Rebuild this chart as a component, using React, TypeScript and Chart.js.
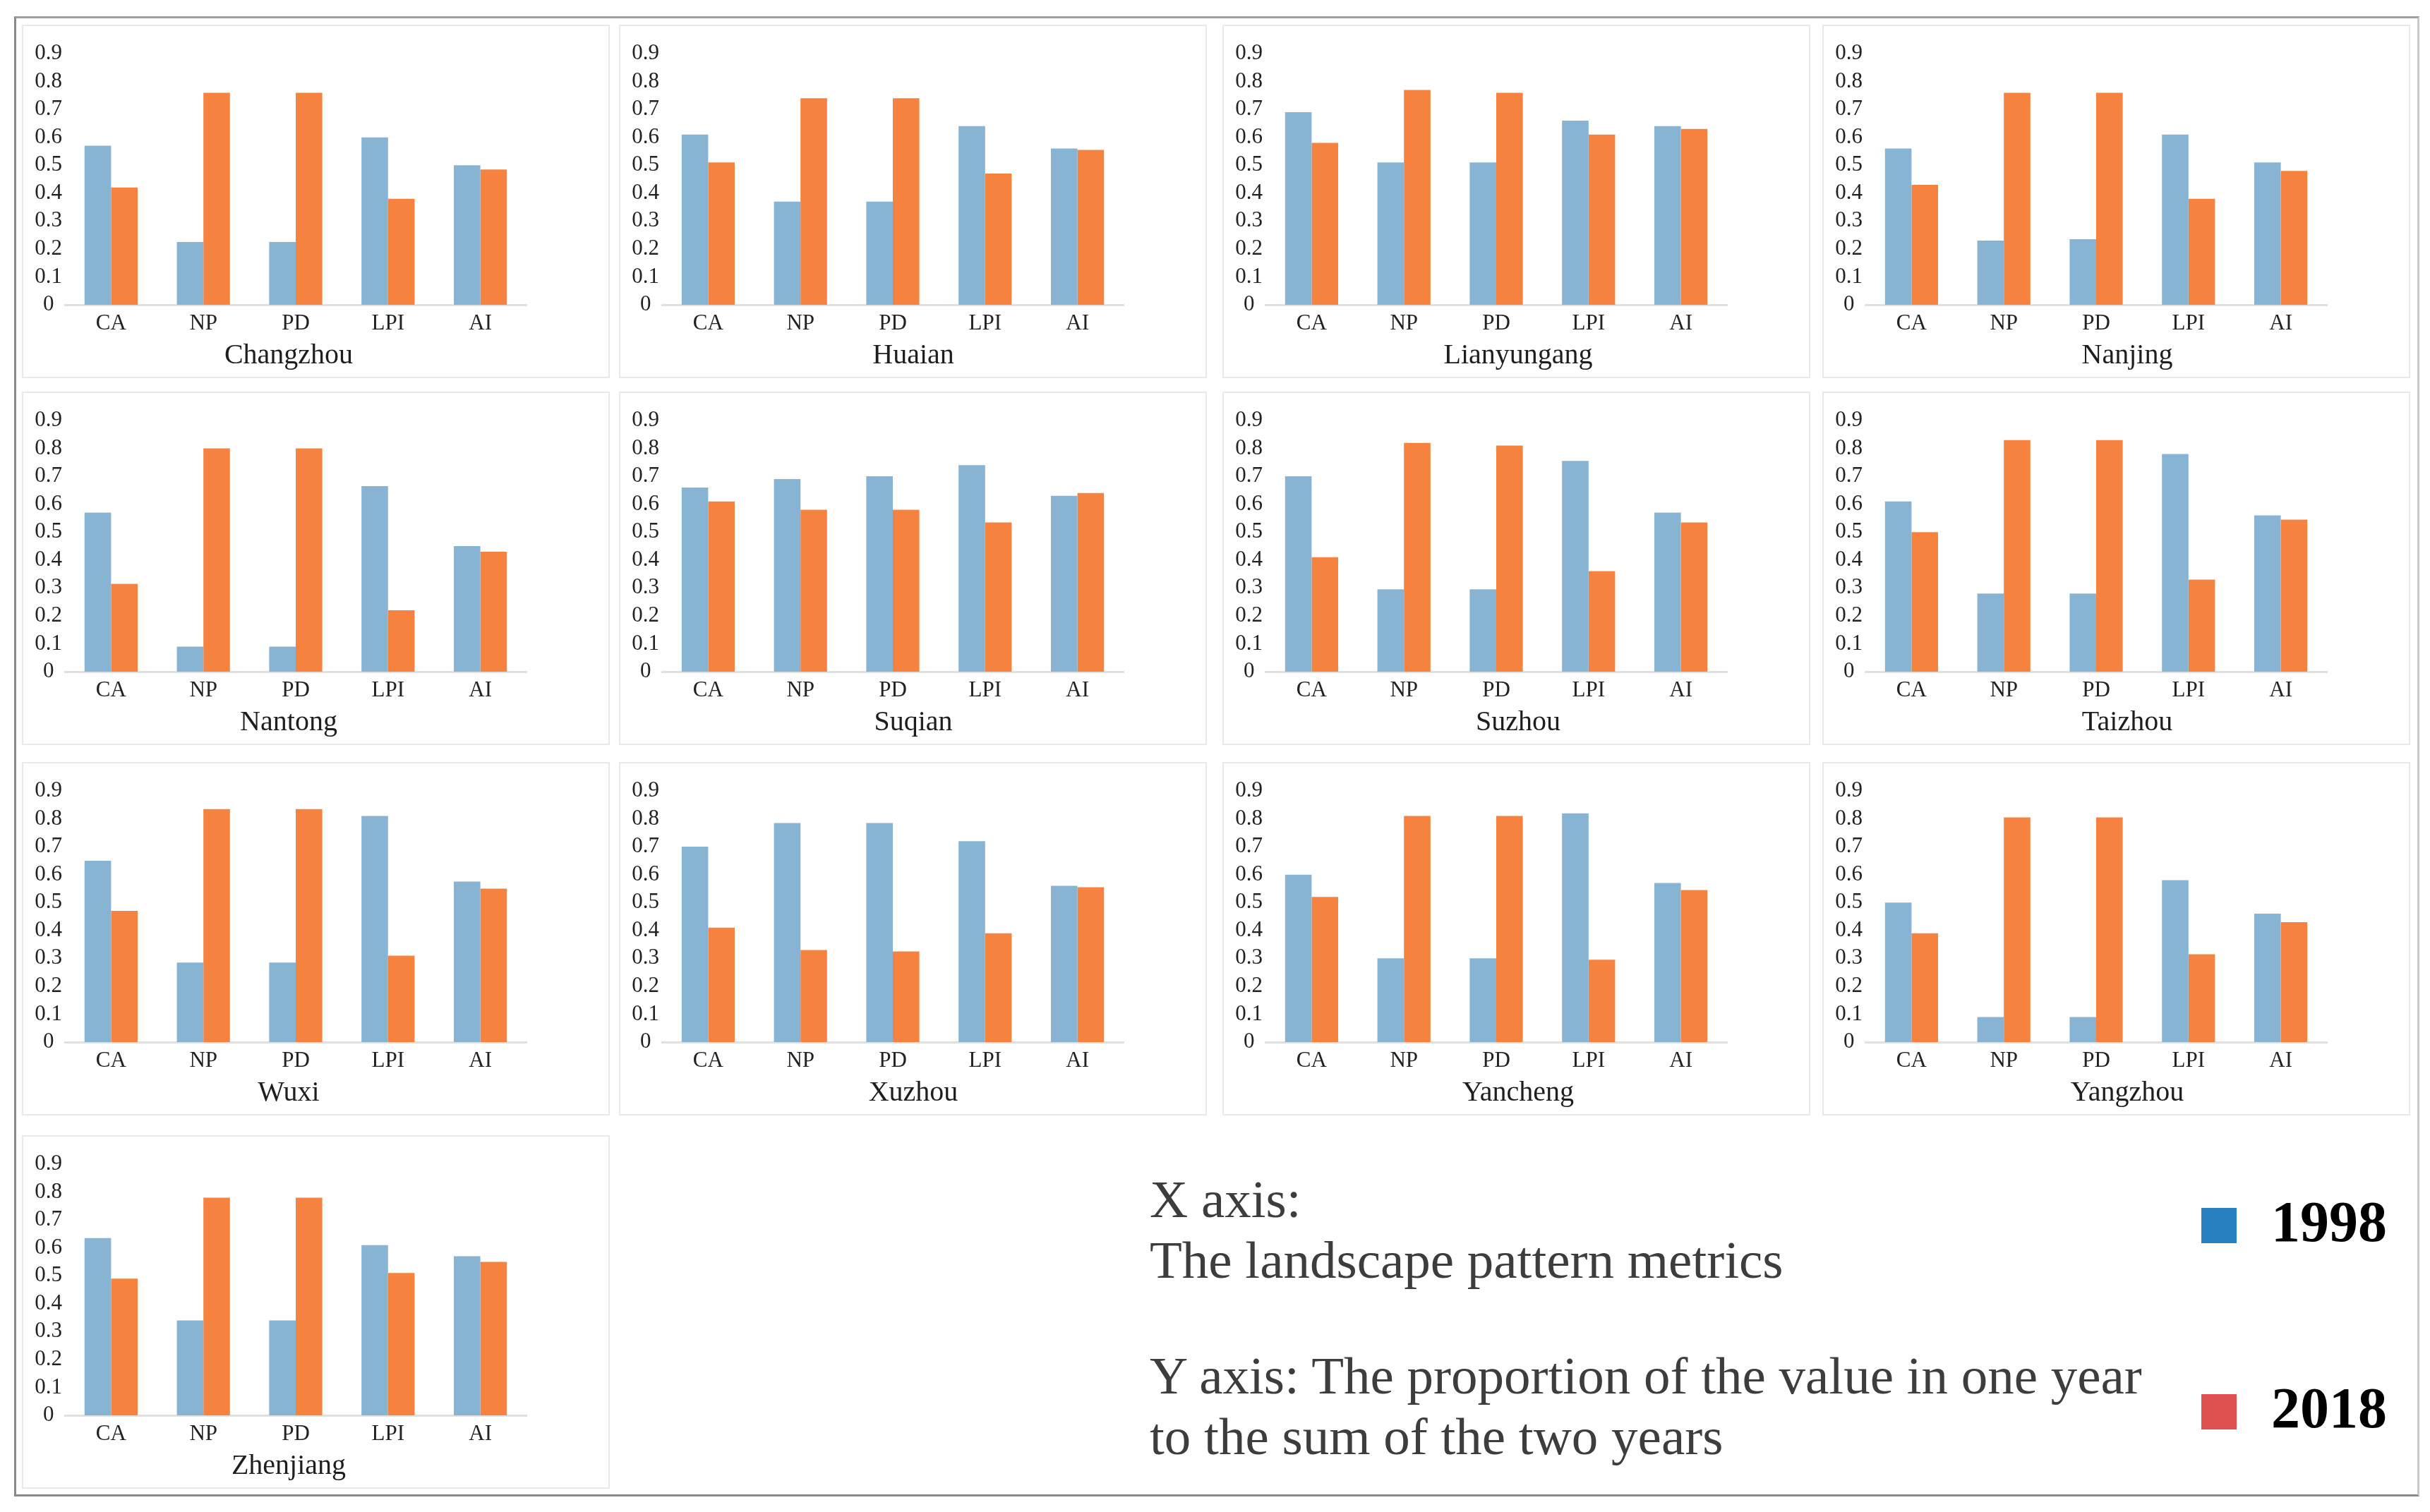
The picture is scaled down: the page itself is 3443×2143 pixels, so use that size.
import React, { useRef, useEffect } from 'react';
import { Chart, registerables } from 'chart.js';

Chart.register(...registerables);

// landscape pattern metrics on the x axis
const metrics = ['CA', 'NP', 'PD', 'LPI', 'AI'];
const yTickLabels = ['0', '0.1', '0.2', '0.3', '0.4', '0.5', '0.6', '0.7', '0.8', '0.9'];
const years = ['1998', '2018'];

const cities = [
    'Changzhou', 'Huaian', 'Lianyungang', 'Nanjing',
    'Nantong', 'Suqian', 'Suzhou', 'Taizhou',
    'Wuxi', 'Xuzhou', 'Yancheng', 'Yangzhou',
    'Zhenjiang',
];

// share of each year in the two-year sum, one row per city (CA, NP, PD, LPI, AI)
const values1998 = [
    [0.57, 0.225, 0.225, 0.6, 0.5],
    [0.61, 0.37, 0.37, 0.64, 0.56],
    [0.69, 0.51, 0.51, 0.66, 0.64],
    [0.56, 0.23, 0.235, 0.61, 0.51],
    [0.57, 0.09, 0.09, 0.665, 0.45],
    [0.66, 0.69, 0.7, 0.74, 0.63],
    [0.7, 0.295, 0.295, 0.755, 0.57],
    [0.61, 0.28, 0.28, 0.78, 0.56],
    [0.65, 0.285, 0.285, 0.81, 0.575],
    [0.7, 0.785, 0.785, 0.72, 0.56],
    [0.6, 0.3, 0.3, 0.82, 0.57],
    [0.5, 0.09, 0.09, 0.58, 0.46],
    [0.635, 0.34, 0.34, 0.61, 0.57],
];

const values2018 = [
    [0.42, 0.76, 0.76, 0.38, 0.485],
    [0.51, 0.74, 0.74, 0.47, 0.555],
    [0.58, 0.77, 0.76, 0.61, 0.63],
    [0.43, 0.76, 0.76, 0.38, 0.48],
    [0.315, 0.8, 0.8, 0.22, 0.43],
    [0.61, 0.58, 0.58, 0.535, 0.64],
    [0.41, 0.82, 0.81, 0.36, 0.535],
    [0.5, 0.83, 0.83, 0.33, 0.545],
    [0.47, 0.835, 0.835, 0.31, 0.55],
    [0.41, 0.33, 0.325, 0.39, 0.555],
    [0.52, 0.81, 0.81, 0.295, 0.545],
    [0.39, 0.805, 0.805, 0.315, 0.43],
    [0.49, 0.78, 0.78, 0.51, 0.55],
];

const SERIF = '"Liberation Serif", "Times New Roman", serif';
const PANEL_W = 829;
const PANEL_H = 497;
const COL_X = [33, 879, 1734, 2584];
const ROW_Y = [37, 557, 1082, 1611];
// where the city name sits in each column (Excel placed them a bit differently)
const TITLE_X = [376, 415, 417, 430];

// draws the city name under the category labels
const cityTitlePlugin = {
    id: 'cityTitle',
    afterDraw(chart: any, _args: any, opts: any) {
        const { ctx } = chart;
        ctx.save();
        ctx.font = `40px ${SERIF}`;
        ctx.fillStyle = '#1e1e1e';
        ctx.textAlign = 'center';
        ctx.textBaseline = 'middle';
        ctx.fillText(opts.text, opts.x, opts.y);
        ctx.restore();
    },
};

interface PanelProps {
    index: number;
}

const CityPanel: React.FC<PanelProps> = ({ index }) => {
    const chartRef = useRef<HTMLCanvasElement>(null);
    const chartInstanceRef = useRef<Chart | null>(null);
    const col = index % 4;
    const row = Math.floor(index / 4);

    useEffect(() => {
        if (!chartRef.current) return;
        const ctx = chartRef.current.getContext('2d');
        if (!ctx) return;
        if (chartInstanceRef.current) chartInstanceRef.current.destroy();

        const tickFont = { family: SERIF, size: 31 };

        chartInstanceRef.current = new Chart(ctx, {
            type: 'bar',
            data: {
                labels: metrics,
                datasets: [
                    {
                        label: years[0],
                        data: values1998[index],
                        backgroundColor: '#88B4D3',
                        borderWidth: 0,
                        categoryPercentage: 0.575,
                        barPercentage: 1,
                    },
                    {
                        label: years[1],
                        data: values2018[index],
                        backgroundColor: '#F5833F',
                        borderWidth: 0,
                        categoryPercentage: 0.575,
                        barPercentage: 1,
                    },
                ],
            },
            options: {
                animation: false,
                responsive: true,
                maintainAspectRatio: false,
                layout: { padding: { top: 39, right: 116, left: 0, bottom: 0 } },
                plugins: {
                    legend: { display: false },
                    tooltip: { enabled: false },
                    cityTitle: { text: cities[index], x: TITLE_X[col], y: 467 },
                } as any,
                scales: {
                    x: {
                        grid: { display: false, drawTicks: false },
                        border: { display: true, color: '#e0e0e0', width: 3 },
                        ticks: { color: '#222', font: tickFont, padding: 8, maxRotation: 0, autoSkip: false },
                        afterFit: (scale: any) => { scale.height = 102; },
                    },
                    y: {
                        min: 0,
                        max: 0.9,
                        grid: { display: false, drawTicks: false },
                        border: { display: false },
                        ticks: {
                            stepSize: 0.1,
                            autoSkip: false,
                            crossAlign: 'center',
                            padding: 4,
                            color: '#222',
                            font: tickFont,
                            callback: (_v: any, i: number) => yTickLabels[i],
                        },
                        afterFit: (scale: any) => { scale.width = 59; },
                    },
                },
            },
            plugins: [cityTitlePlugin],
        });

        return () => {
            if (chartInstanceRef.current) chartInstanceRef.current.destroy();
        };
    }, [index, col]);

    return (
        <div
            style={{
                position: 'absolute',
                left: COL_X[col] - 2,
                top: ROW_Y[row] - 2,
                width: PANEL_W + 4,
                height: PANEL_H + 4,
                border: '2px solid #e9e9e9',
                boxSizing: 'border-box',
                background: '#fff',
            }}
        >
            <div style={{ position: 'relative', width: PANEL_W, height: PANEL_H }}>
                <canvas ref={chartRef}></canvas>
            </div>
        </div>
    );
};

const legendColors = ['#2781C1', '#DE5050'];
const legendTop = [1712, 1976];
const textStyle: React.CSSProperties = {
    position: 'absolute',
    left: 1629,
    fontFamily: SERIF,
    fontSize: 75,
    lineHeight: '86px',
    color: '#3d3d3d',
    whiteSpace: 'nowrap',
};

const App: React.FC = () => {
    return (
        <div
            style={{
                position: 'absolute',
                left: 0,
                top: 0,
                width: 3443,
                height: 2143,
                background: '#fff',
                overflow: 'hidden',
            }}
        >
            <div
                style={{
                    position: 'absolute',
                    left: 20,
                    top: 23,
                    width: 3408,
                    height: 2098,
                    boxSizing: 'border-box',
                    borderStyle: 'solid',
                    borderWidth: 3,
                    borderColor: '#a0a0a0 #c8c8c8 #8a8a8a #8a8a8a',
                }}
            />
            {cities.map((c, i) => <CityPanel key={c} index={i} />)}

            <div style={{ ...textStyle, top: 1657 }}>
                X axis:<br />The landscape pattern metrics
            </div>
            <div style={{ ...textStyle, top: 1907 }}>
                Y axis: The proportion of the value in one year<br />to the sum of the two years
            </div>

            {years.map((y, i) => (
                <React.Fragment key={y}>
                    <div
                        style={{
                            position: 'absolute',
                            left: 3119,
                            top: legendTop[i],
                            width: 50,
                            height: 50,
                            background: legendColors[i],
                        }}
                    />
                    <div
                        style={{
                            position: 'absolute',
                            left: 3218,
                            top: legendTop[i] - 30,
                            height: 100,
                            lineHeight: '100px',
                            fontFamily: SERIF,
                            fontWeight: 'bold',
                            fontSize: 82,
                            color: '#000',
                        }}
                    >
                        {y}
                    </div>
                </React.Fragment>
            ))}
        </div>
    );
};

export default App;
